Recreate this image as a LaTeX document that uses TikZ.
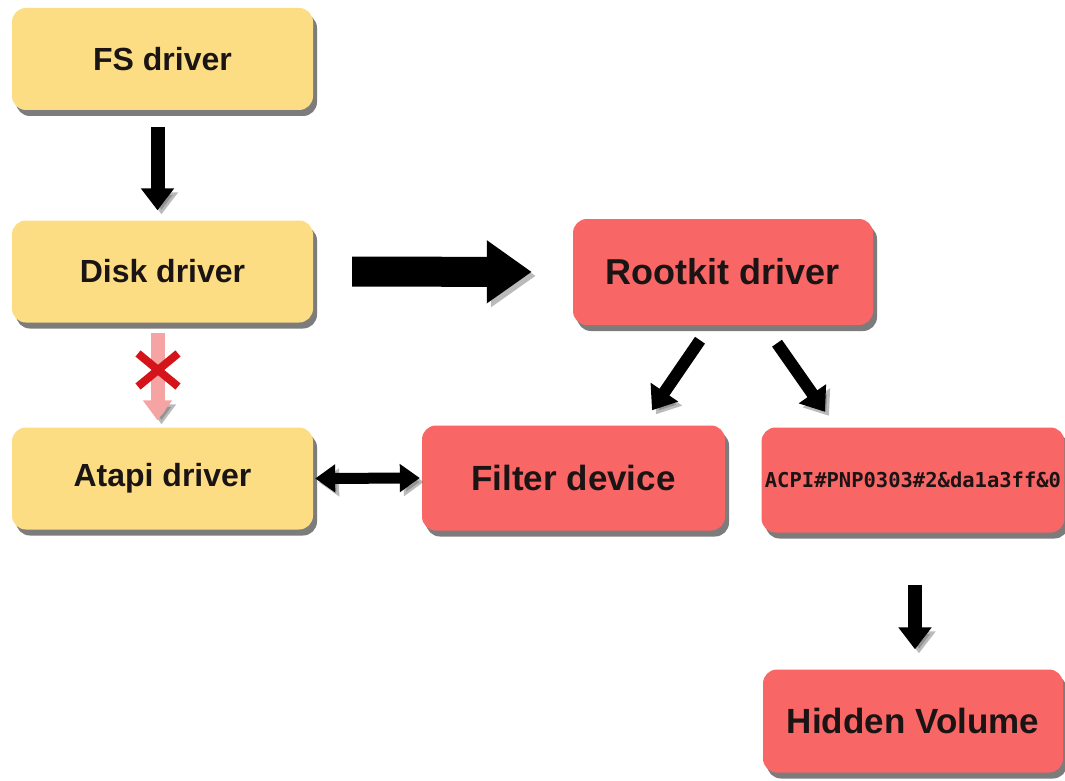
\documentclass[tikz,border=0pt]{standalone}
\usepackage{fontspec}
\setmainfont{Liberation Sans}
\newfontfamily\acpifont{DejaVu Sans Mono}
\usetikzlibrary{arrows.meta,shadows,shapes.misc,calc}
\definecolor{boxyellow}{HTML}{FCDD84}
\definecolor{boxred}{HTML}{F96666}
\definecolor{pinkarrow}{HTML}{F5A3A3}
\definecolor{crossred}{HTML}{D4141A}
\definecolor{txt}{HTML}{1A1414}
\begin{document}
\begin{tikzpicture}[x=1pt,y=-1pt,
  boxbase/.style={rectangle, rounded corners=14pt, text=txt, font=\bfseries,
    drop shadow={shadow xshift=4pt, shadow yshift=-6pt, fill=black!85, opacity=0.6}},
  ybox/.style={boxbase, fill=boxyellow, minimum width=301pt, minimum height=102pt, font=\fontsize{32}{36}\selectfont\bfseries},
  rbox/.style={boxbase, fill=boxred, minimum width=301pt, minimum height=104pt, font=\fontsize{35}{40}\selectfont\bfseries},
  shad/.style={preaction={draw=black!60, opacity=0.45, transform canvas={xshift=4pt,yshift=-4pt}}},
  arr/.style={shad, draw=black, line width=14pt, -{Triangle[width=32pt,length=22pt]}},
  dblarr/.style={shad, draw=black, line width=11pt, {Triangle[width=27pt,length=20pt]}-{Triangle[width=27pt,length=20pt]}},
  bigarr/.style={shad, draw=black, line width=30pt, -{Triangle[width=60pt,length=45pt]}},
]
\useasboundingbox (0,0) rectangle (1065,781);
\fill[white] (0,0) rectangle (1065,781);

\node[ybox] (fs) at (162.5,59) {FS driver};
\node[ybox] (disk) at (162.5,271.5) {Disk driver};
\node[ybox] (atapi) at (162.5,478.5) {Atapi driver};
\node[rbox, minimum width=300pt, minimum height=106pt, font=\fontsize{36}{40}\selectfont\bfseries] (rootkit) at (723,272) {Rootkit driver};
\node[rbox, minimum width=303pt, minimum height=105pt] (filter) at (573.5,478) {Filter device};
\node[rbox, minimum width=300pt, minimum height=105pt, font=\fontsize{20.5}{24}\selectfont\acpifont\bfseries] (acpi) at (913,480) {ACPI\#PNP0303\#2\&da1a3ff\&0};
\node[rbox, minimum width=300pt, minimum height=103pt] (hidden) at (913,721) {Hidden Volume};

% connectors
\draw[arr, shorten <=17pt, shorten >=10pt] ([xshift=-5pt]fs.south) -- ([xshift=-5pt]disk.north);
\draw[bigarr, shorten <=39pt, shorten >=41pt] (disk.east) -- (rootkit.west);
\draw[shad, draw=pinkarrow, line width=14pt, -{Triangle[width=28pt,length=20pt]}, shorten <=10pt, shorten >=7pt]
  ([xshift=-5pt]disk.south) -- ([xshift=-5pt]atapi.north);
\node[cross out, draw=crossred, line width=8pt, minimum width=32pt, minimum height=25pt] (xmark) at (158,370) {};
\draw[arr, line width=12pt] ($(rootkit.south)+(-23,15)$) -- ($(filter.north)+(78.5,-15)$);
\draw[arr, line width=12pt] ($(rootkit.south)+(54,18)$) -- ($(acpi.north)+(-88,-15.5)$);
\draw[dblarr, shorten <=2pt, shorten >=2pt] (atapi.east) -- (filter.west);
\draw[arr, shorten <=52pt, shorten >=20pt] ([xshift=2pt]acpi.south) -- ([xshift=2pt]hidden.north);
\end{tikzpicture}
\end{document}
